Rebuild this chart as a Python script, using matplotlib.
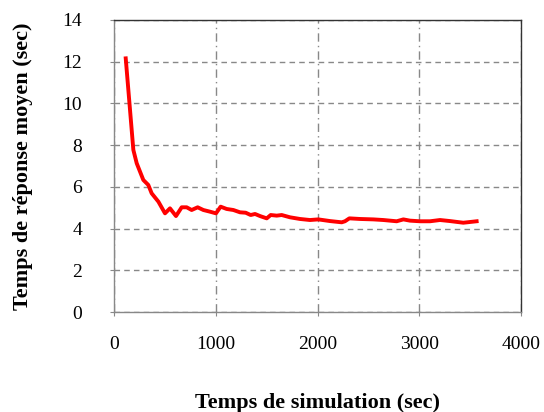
import matplotlib
matplotlib.use("Agg")
import matplotlib.pyplot as plt

# simulation time (sec) and mean response time (sec)
sim_time = [115, 190, 223, 288, 337, 370, 436, 501, 550, 609, 665, 714, 763, 822,
            878, 943, 1002, 1048, 1107, 1173, 1238, 1294, 1343, 1386, 1435, 1501,
            1540, 1599, 1648, 1730, 1828, 1926, 2008, 2123, 2238, 2270, 2313, 2418,
            2549, 2647, 2778, 2844, 2909, 3007, 3106, 3204, 3302, 3433, 3564]
resp_time = [12.16, 7.77, 7.13, 6.33, 6.09, 5.69, 5.29, 4.73, 4.97, 4.60, 5.02, 5.02,
             4.89, 5.02, 4.89, 4.81, 4.73, 5.05, 4.94, 4.89, 4.78, 4.76, 4.65, 4.70,
             4.60, 4.49, 4.65, 4.62, 4.65, 4.54, 4.46, 4.41, 4.44, 4.36, 4.30, 4.35,
             4.49, 4.46, 4.44, 4.41, 4.35, 4.44, 4.38, 4.35, 4.35, 4.41, 4.36, 4.28,
             4.35]

x_ticks = [0, 1000, 2000, 3000, 4000]
y_ticks = [0, 2, 4, 6, 8, 10, 12, 14]

plt.rcParams['font.family'] = ['Liberation Serif', 'DejaVu Serif']

fig = plt.figure(figsize=(5.44, 4.12), dpi=100)
ax = fig.add_axes([0.2096, 0.2427, 0.7481, 0.7088])

ax.plot(sim_time, resp_time, color='#ff0000', linewidth=2.8, solid_joinstyle='round')

ax.set_xlim(0, 4000)
ax.set_ylim(0, 14)
ax.set_xticks(x_ticks)
ax.set_yticks(y_ticks)

ax.yaxis.grid(True, linestyle=(0, (4, 3)), color='#888888', linewidth=1)
ax.xaxis.grid(True, linestyle=(0, (6, 3, 1, 3)), color='#888888', linewidth=1)

for s in ax.spines.values():
    s.set_color('#888888')
    s.set_linewidth(1)
ax.spines['top'].set_color('#333333')
ax.spines['right'].set_color('#333333')

ax.tick_params(axis='y', length=3, color='#888888', pad=20, labelsize=14)
ax.tick_params(axis='x', length=3, color='#888888', pad=14, labelsize=14)

ax.set_xlabel("Temps de simulation (sec)", fontsize=16, fontweight='bold', labelpad=29)
ax.set_ylabel("Temps de réponse moyen (sec)", fontsize=16, fontweight='bold', labelpad=21)

fig.savefig("out.png", dpi=100)
